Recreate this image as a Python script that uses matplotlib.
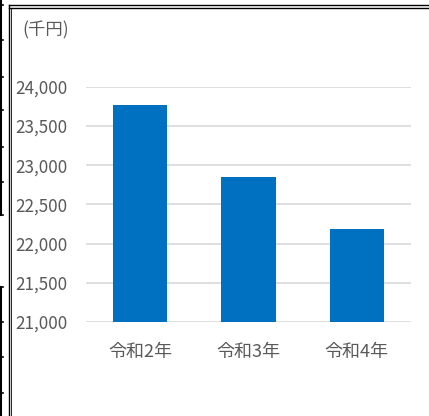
import matplotlib.pyplot as plt
from matplotlib.lines import Line2D
from matplotlib.ticker import FuncFormatter

plt.rcParams['font.family'] = ['Noto Sans CJK JP', 'DejaVu Sans']

# datos (miles de yenes)
categorias = ['令和2年', '令和3年', '令和4年']
valores = [23770, 22845, 22190]
ticks_y = [21000, 21500, 22000, 22500, 23000, 23500, 24000]

W, H = 429, 416
fig = plt.figure(figsize=(W/100, H/100), dpi=100)
ax = fig.add_axes([86/W, 1-322/H, (411-86)/W, (322-86.7)/H])

gris = '#595959'
ax.bar(range(len(categorias)), valores, width=0.5, color='#0070C0', zorder=3)
ax.set_xlim(-0.5, 2.5)
ax.set_ylim(21000, 24000)
ax.set_yticks(ticks_y)
ax.yaxis.set_major_formatter(FuncFormatter(lambda v, p: f'{int(v):,}'))
ax.set_xticks(range(len(categorias)))
ax.set_xticklabels(categorias)
ax.grid(axis='y', color='#D9D9D9', linewidth=1.2, zorder=0)
for s in ax.spines.values():
    s.set_visible(False)
ax.tick_params(length=0, colors=gris)
ax.tick_params(axis='y', pad=13.5, labelsize=12.3)
ax.tick_params(axis='x', pad=15, labelsize=13)

fig.text(22/W, 1-30/H, '(千円)', color=gris, fontsize=12.5, va='center', ha='left')

# marco del grafico
def linea(x0, y0, x1, y1, lw=1.0):
    fig.add_artist(Line2D([x0/W, x1/W], [1-y0/H, 1-y1/H], color='black', lw=lw,
                          transform=fig.transFigure))

linea(9, 5, W, 5)
linea(9, 7.5, W, 7.5)
linea(9, 5, 9, H)
linea(10.5, 7.5, 10.5, H, lw=0.6)

# bordes de la tabla a la izquierda
linea(1, 0, 1, 215, lw=1.5)
linea(1, 287, 1, H, lw=1.5)
for y in [5, 40, 77, 110, 147, 182, 215, 287, 322, 357, 393]:
    linea(0, y, 3, y, lw=1.2)

plt.savefig('out.png', dpi=100)
